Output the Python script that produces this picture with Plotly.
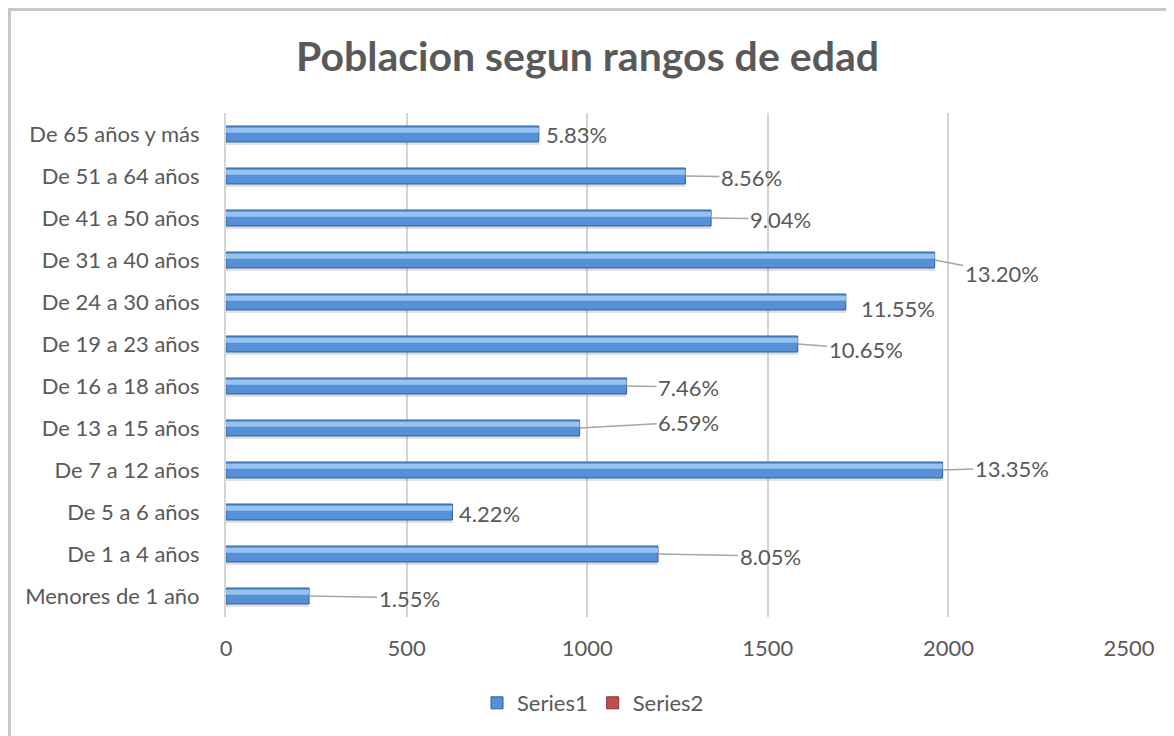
import plotly.graph_objects as go

# data (bottom to top)
categories = ["Menores de 1 año", "De 1 a 4 años", "De 5 a 6 años", "De 7 a 12 años",
              "De 13 a 15 años", "De 16 a 18 años", "De 19 a 23 años", "De 24 a 30 años",
              "De 31 a 40 años", "De 41 a 50 años", "De 51 a 64 años", "De 65 años y más"]
values = [230, 1196, 627, 1984, 979, 1109, 1583, 1716, 1962, 1343, 1272, 866]
pct_labels = ["1.55%", "8.05%", "4.22%", "13.35%", "6.59%", "7.46%",
              "10.65%", "11.55%", "13.20%", "9.04%", "8.56%", "5.83%"]
x_ticks = [0, 500, 1000, 1500, 2000, 2500]

# label offsets in pixels from the bar end (dx, dy) and whether a leader line shows
label_dx = [100, 112, 37, 69, 109, 62, 68, 52, 67, 69, 66, 38]
label_dy = [2, 2, 1, -2, -6, 1, 5, 6, 13, 1, 1, 0]
leader = [True, True, False, True, True, True, True, False, True, True, True, False]

FONT = "Lato"
GREY = "#595959"

# page has an 8px body margin, so the figure is 8px smaller than the window
W, H = 1166, 728
L, T, PW, PH = 218, 105, 903, 504

fig = go.Figure()

# faint shadow under each bar
fig.add_trace(go.Bar(y=categories, x=values, orientation="h", width=0.08, offset=-0.26,
                     marker=dict(color="rgba(120,120,120,0.22)", line_width=0),
                     showlegend=False, hoverinfo="skip"))
# main bars
fig.add_trace(go.Bar(y=categories, x=values, orientation="h", name="Series1",
                     width=0.38, offset=-0.19,
                     marker=dict(color="#5690d6", line=dict(color="#2f5f9e", width=1))))
# highlight stripe for the bevelled look
fig.add_trace(go.Bar(y=categories, x=values, orientation="h", width=0.12, offset=0.03,
                     marker=dict(color="#97c3f0", line_width=0),
                     showlegend=False, hoverinfo="skip"))
# empty second series (legend only)
fig.add_trace(go.Bar(y=[None], x=[None], orientation="h", name="Series2",
                     marker=dict(color="#c0504d", line=dict(color="#8c2d2a", width=1))))

for c, v, t, dx, dy, ld in zip(categories, values, pct_labels, label_dx, label_dy, leader):
    fig.add_annotation(x=v, y=c, xref="x", yref="y", text=t, showarrow=True,
                       ax=dx, ay=dy, arrowhead=0, arrowwidth=1.5,
                       arrowcolor="#a6a6a6" if ld else "rgba(0,0,0,0)",
                       font=dict(family=FONT, size=22, color=GREY))

# chart border (top and left visible)
fig.add_shape(type="rect", xref="paper", yref="paper",
              x0=(1.5 - L) / PW, x1=(W + 20 - L) / PW,
              y0=(T + PH - H - 20) / PH, y1=(T + PH - 1.5) / PH,
              line=dict(color="#c8c8c8", width=3), fillcolor="rgba(0,0,0,0)", layer="below")

fig.update_layout(
    width=W, height=H,
    margin=dict(l=L, r=W - L - PW, t=T, b=H - T - PH),
    paper_bgcolor="white", plot_bgcolor="white",
    barmode="overlay",
    title=dict(text="<b>Poblacion segun rangos de edad</b>", x=579.5 / W, xanchor="center",
               y=1 - 49 / H, yanchor="middle",
               font=dict(family=FONT, size=41, color=GREY)),
    font=dict(family=FONT, size=22, color=GREY),
    legend=dict(orientation="h", x=(585 - L) / PW, xanchor="center",
                y=(T + PH - 695) / PH, yanchor="middle",
                font=dict(family=FONT, size=22, color=GREY)),
    showlegend=True,
)
fig.update_xaxes(range=[0, 2500], tickvals=x_ticks, showgrid=True, gridcolor="#d4d4d4",
                 gridwidth=2, zeroline=False, showline=False, ticks="",
                 ticklabelstandoff=16, tickfont=dict(family=FONT, size=22, color=GREY))
fig.update_yaxes(categoryorder="array", categoryarray=categories, showgrid=False,
                 showline=True, linecolor="#d4d4d4", linewidth=2, ticks="",
                 ticklabelstandoff=20, tickfont=dict(family=FONT, size=22, color=GREY))

fig.write_html("out.html")
